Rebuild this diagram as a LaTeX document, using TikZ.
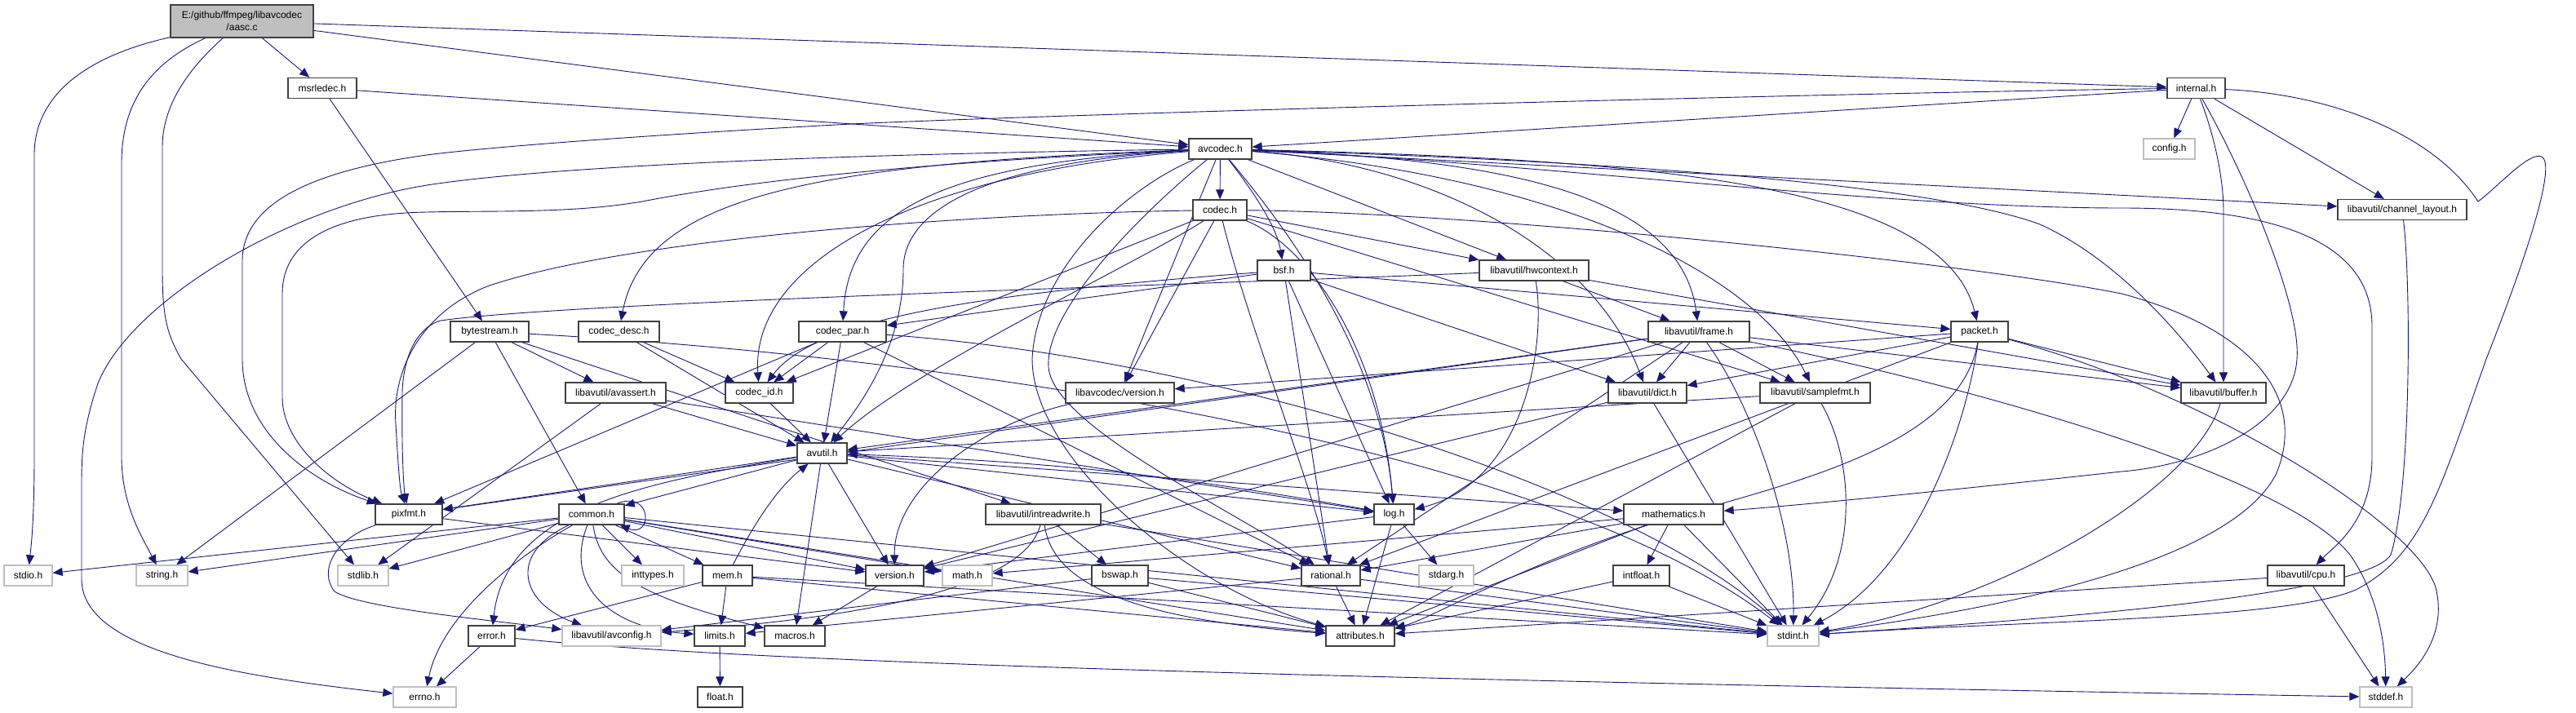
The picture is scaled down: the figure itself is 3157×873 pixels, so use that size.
\documentclass[tikz,border=0pt]{standalone}
\usepackage{fontspec}
\setmainfont{Liberation Sans}
\usetikzlibrary{arrows.meta}
\pgfdeclarelayer{back}
\pgfdeclarelayer{bg}
\pgfsetlayers{back,bg,main}
\definecolor{edgec}{RGB}{25,25,112}
\definecolor{grayb}{RGB}{191,191,191}
\definecolor{darkb}{RGB}{64,64,64}
\definecolor{rootf}{RGB}{191,191,191}
\begin{document}
\begin{tikzpicture}[x=1pt,y=-1pt,
  nb/.style={draw=darkb, line width=1.3pt, fill=white, inner sep=0pt, minimum height=25pt, font=\fontsize{12}{15}\selectfont, text=black},
  gb/.style={nb, draw=grayb},
  rb/.style={nb, fill=rootf, minimum height=40pt, align=center},
  e/.style={draw=edgec, line width=0.9pt, -{Triangle[length=12pt,width=10pt]}}]
\begin{pgfonlayer}{back}
\fill[white] (0,0) rectangle (3157,873);
\end{pgfonlayer}
\useasboundingbox (0,0) rectangle (3157,873);
% nodes
\node[rb, minimum width=175pt] (aasc) at (296.5,26) {E:/github/ffmpeg/libavcodec\\/aasc.c};
\node[nb, minimum width=84pt] (msrledec) at (395,108) {msrledec.h};
\node[nb, minimum width=71pt] (internal) at (2691.5,108) {internal.h};
\node[nb, minimum width=77pt] (avcodec) at (1495.5,182.5) {avcodec.h};
\node[gb, minimum width=63pt] (config) at (2658.5,182.5) {config.h};
\node[nb, minimum width=158pt] (chlayout) at (2944,257) {libavutil/channel\_layout.h};
\node[nb, minimum width=66pt] (codec) at (1495,257.5) {codec.h};
\node[nb, minimum width=65pt] (bsf) at (1573.5,331.5) {bsf.h};
\node[nb, minimum width=134pt] (hwcontext) at (1880,331.5) {libavutil/hwcontext.h};
\node[nb, minimum width=96pt] (bytestream) at (600,406.5) {bytestream.h};
\node[nb, minimum width=99pt] (codecdesc) at (758.5,406.5) {codec\_desc.h};
\node[nb, minimum width=107pt] (codecpar) at (1032.5,406.5) {codec\_par.h};
\node[nb, minimum width=124pt] (frame) at (2082,406.5) {libavutil/frame.h};
\node[nb, minimum width=70pt] (packet) at (2426,406.5) {packet.h};
\node[nb, minimum width=123pt] (avassert) at (754.5,481.5) {libavutil/avassert.h};
\node[nb, minimum width=83pt] (codecid) at (930.5,481.5) {codec\_id.h};
\node[nb, minimum width=133pt] (lavcver) at (1372.5,481.5) {libavcodec/version.h};
\node[nb, minimum width=96pt] (dict) at (2019,481.5) {libavutil/dict.h};
\node[nb, minimum width=135pt] (samplefmt) at (2224.5,481.5) {libavutil/samplefmt.h};
\node[nb, minimum width=104pt] (buffer) at (2725,481.5) {libavutil/buffer.h};
\node[nb, minimum width=61pt] (avutil) at (1007.5,555.5) {avutil.h};
\node[nb, minimum width=82pt] (pixfmt) at (501,630.5) {pixfmt.h};
\node[nb, minimum width=80pt] (common) at (725,630.5) {common.h};
\node[nb, minimum width=141pt] (intreadwrite) at (1278.5,630.5) {libavutil/intreadwrite.h};
\node[nb, minimum width=49pt] (log) at (1708.5,630.5) {log.h};
\node[nb, minimum width=122pt] (mathematics) at (2051,630.5) {mathematics.h};
\node[gb, minimum width=59pt] (stdio) at (34.5,705.5) {stdio.h};
\node[gb, minimum width=63pt] (string) at (198.5,705.5) {string.h};
\node[gb, minimum width=62pt] (stdlib) at (445,705.5) {stdlib.h};
\node[gb, minimum width=76pt] (inttypes) at (800,705.5) {inttypes.h};
\node[nb, minimum width=61pt] (mem) at (891.5,705.5) {mem.h};
\node[nb, minimum width=71pt] (version) at (1096.5,705.5) {version.h};
\node[gb, minimum width=61pt] (math) at (1185.5,705.5) {math.h};
\node[nb, minimum width=69pt] (bswap) at (1372.5,705.5) {bswap.h};
\node[nb, minimum width=72pt] (rational) at (1631,705.5) {rational.h};
\node[gb, minimum width=67pt] (stdarg) at (1772.5,705.5) {stdarg.h};
\node[nb, minimum width=69pt] (intfloat) at (2011.5,705.5) {intfloat.h};
\node[nb, minimum width=94pt] (cpu) at (2826,705.5) {libavutil/cpu.h};
\node[nb, minimum width=57pt] (error) at (602.5,779.5) {error.h};
\node[gb, minimum width=121pt] (avconfig) at (749.5,779.5) {libavutil/avconfig.h};
\node[nb, minimum width=62pt] (limits) at (882,779.5) {limits.h};
\node[nb, minimum width=74pt] (macros) at (974,779.5) {macros.h};
\node[nb, minimum width=84pt] (attributes) at (1667,779.5) {attributes.h};
\node[gb, minimum width=63pt] (stdint) at (2197.5,779.5) {stdint.h};
\node[gb, minimum width=77pt] (errno) at (520.5,854.5) {errno.h};
\node[nb, minimum width=55pt] (float) at (882.5,854.5) {float.h};
\node[gb, minimum width=64pt] (stddef) at (2924,854.5) {stddef.h};
% edges
\begin{pgfonlayer}{bg}
\foreach \a/\b in {aasc/msrledec, aasc/avcodec, aasc/internal,
 msrledec/avcodec, msrledec/bytestream,
 internal/avcodec, internal/config, internal/chlayout,
 avcodec/chlayout, avcodec/hwcontext, avcodec/codec, avcodec/lavcver,
 codec/hwcontext, codec/samplefmt, codec/codecid, codec/lavcver,
 bsf/dict, bsf/log, bsf/rational, bsf/codecpar, bsf/packet,
 codecdesc/avutil, codecdesc/codecid,
 codecpar/avutil, codecpar/rational, codecpar/pixfmt, codecpar/codecid,
 codecid/avutil,
 packet/buffer, packet/dict, packet/lavcver, packet/rational,
 bytestream/string, bytestream/avassert, bytestream/common, bytestream/intreadwrite,
 avassert/stdlib, avassert/avutil, avassert/log,
 avutil/common, avutil/rational, avutil/version, avutil/macros, avutil/mathematics, avutil/log, avutil/pixfmt,
 common/inttypes, common/math, common/stdint, common/stdio, common/stdlib, common/string, common/attributes, common/version, common/mem,
 error/errno,
 mem/limits, mem/stdint, mem/attributes, mem/error,
 version/macros,
 rational/stdint, rational/limits, rational/attributes,
 mathematics/stdint, mathematics/math, mathematics/attributes, mathematics/rational, mathematics/intfloat,
 intfloat/stdint, intfloat/attributes,
 log/stdarg, log/attributes, log/version,
 pixfmt/version,
 intreadwrite/stdint, intreadwrite/bswap,
 bswap/stdint, bswap/avconfig, bswap/attributes,
 cpu/stddef, cpu/attributes,
 dict/stdint, dict/version,
 samplefmt/avutil, samplefmt/attributes,
 hwcontext/buffer, hwcontext/frame,
 frame/avutil, frame/buffer, frame/dict, frame/rational, frame/samplefmt, frame/pixfmt, frame/version,
 limits/float}
 {\draw[e] (\a) -- (\b);}
\draw[e] (log) to[bend right=4] (avutil);
\draw[e] (codec) .. controls (1400,320) and (1120,450) .. (avutil);
% aasc
\draw[e] (aasc) .. controls (100,70) and (42,120) .. (42,190) -- (42,560) .. controls (42,640) and (38,670) .. (stdio);
\draw[e] (aasc) .. controls (190,75) and (149,120) .. (149,200) -- (149,560) .. controls (149,620) and (175,660) .. (string);
\draw[e] (aasc) .. controls (230,85) and (199,130) .. (199,180) -- (199,330) .. controls (199,390) and (205,410) .. (222,440) -- (stdlib);
% internal
\draw[e] (internal) .. controls (2715,170) and (2725,220) .. (2725,260) -- (buffer);
\draw[e] (internal) .. controls (2760,230) and (2820,380) .. (2815,440) .. controls (2810,520) and (2700,570) .. (2600,578) .. controls (2400,600) and (2200,620) .. (mathematics);
\draw[e] (internal) .. controls (2200,115) and (1300,140) .. (1043,152) .. controls (800,165) and (600,180) .. (523,190) .. controls (380,210) and (297,250) .. (297,320) -- (297,440) .. controls (297,530) and (380,590) .. (pixfmt);
\draw[e] (internal) .. controls (2850,115) and (2980,160) .. (3037,247) .. controls (3060,230) and (3100,185) .. (3115,192) .. controls (3130,200) and (3110,280) .. (3047,440) .. controls (2990,600) and (2970,680) .. (2887,723) .. controls (2800,760) and (2500,760) .. (stdint);
% avcodec
\draw[e] (avcodec) .. controls (1100,188) and (700,200) .. (523,227) .. controls (350,255) and (160,370) .. (120,470) .. controls (100,530) and (100,560) .. (100,600) -- (100,710) .. controls (100,800) and (300,830) .. (errno);
\draw[e] (avcodec) .. controls (1100,200) and (900,225) .. (787,247) .. controls (700,262) and (600,258) .. (523,260) .. controls (400,262) and (346,300) .. (346,360) -- (346,487) .. controls (346,540) and (400,590) .. (pixfmt);
\draw[e] (avcodec) .. controls (1900,215) and (2150,330) .. (samplefmt);
\draw[e] (avcodec) .. controls (1380,230) and (1270,330) .. (1265,440) .. controls (1265,560) and (1450,720) .. (attributes);
\draw[e] (avcodec) .. controls (1400,260) and (1280,380) .. (1285,450) .. controls (1290,520) and (1500,620) .. (rational);
\draw[e] (avcodec) .. controls (1200,200) and (1107,260) .. (1107,330) .. controls (1107,420) and (1060,490) .. (avutil);
\draw[e] (avcodec) .. controls (1900,195) and (2350,220) .. (2500,275) .. controls (2600,320) and (2680,420) .. (buffer);
\draw[e] (avcodec) .. controls (1900,200) and (2300,255) .. (2600,255) .. controls (2800,255) and (2907,300) .. (2907,400) -- (2907,560) .. controls (2907,640) and (2860,670) .. (cpu);
\draw[e] (avcodec) .. controls (1750,200) and (1950,300) .. (dict);
\draw[e] (avcodec) .. controls (1850,195) and (2060,240) .. (frame);
\draw[e] (avcodec) .. controls (1560,260) and (1690,420) .. (log);
\draw[e] (avcodec) .. controls (1150,200) and (1040,260) .. (codecpar);
\draw[e] (avcodec) .. controls (1000,200) and (790,240) .. (codecdesc);
\draw[e] (avcodec) .. controls (1100,215) and (920,330) .. (codecid);
\draw[e] (avcodec) .. controls (2000,195) and (2380,220) .. (packet);
\draw[e] (avcodec) .. controls (1540,240) and (1565,280) .. (bsf);
% codec
\draw[e] (codec) .. controls (1800,260) and (2400,320) .. (2600,360) .. controls (2750,400) and (2830,480) .. (2790,580) .. controls (2740,680) and (2500,740) .. (stdint);
\draw[e] (codec) .. controls (1600,300) and (1690,420) .. (log);
\draw[e] (codec) .. controls (1200,262) and (780,290) .. (600,350) .. controls (520,380) and (480,450) .. (485,520) .. controls (488,570) and (490,600) .. (pixfmt);
\draw[e] (codec) .. controls (1530,400) and (1610,600) .. (rational);
% bsf, codec_par, packet
\draw[e] (bsf) .. controls (1200,360) and (1000,390) .. (codecid);
\draw[e] (codecpar) .. controls (1500,440) and (2000,600) .. (stdint);
\draw[e] (packet) .. controls (2700,480) and (2960,640) .. (2985,720) .. controls (3000,780) and (2960,820) .. (stddef);
\draw[e] (packet) .. controls (2410,520) and (2350,700) .. (stdint);
\draw[e] (packet) .. controls (2400,560) and (2150,600) .. (2000,650) .. controls (1850,700) and (1750,760) .. (attributes);
\draw[e] (lavcver) .. controls (1200,520) and (1095,600) .. (version);
\draw[e] (bytestream) .. controls (1200,440) and (1900,550) .. (stdint);
\draw[e] (avutil) .. controls (800,590) and (620,620) .. (error);
% common
\draw[e] (common) .. controls (620,690) and (540,760) .. (errno);
\draw[e] (common) .. controls (690,720) and (750,770) .. (limits);
\draw[e] (common) .. controls (735,700) and (780,730) .. (macros);
\draw[e] (common) .. controls (620,680) and (640,740) .. (avconfig);
\draw[e] ([xshift=-10pt]common.north east) .. controls (800,600) and (800,660) .. ([xshift=-6pt]common.south east);
\draw[e] (error) .. controls (900,810) and (1500,830) .. (stddef);
\draw[e] (mem) .. controls (920,650) and (950,600) .. (avutil);
\draw[e] (pixfmt) .. controls (410,660) and (390,700) .. (410,725) .. controls (440,745) and (600,760) .. (avconfig);
\draw[e] (intreadwrite) .. controls (1260,700) and (1150,750) .. (avconfig);
\draw[e] (intreadwrite) .. controls (1290,720) and (1400,760) .. (attributes);
\draw[e] (buffer) .. controls (2690,600) and (2450,740) .. (stdint);
\draw[e] (chlayout) .. controls (2955,350) and (2955,600) .. (2930,680) .. controls (2900,730) and (2500,760) .. (stdint);
\draw[e] (samplefmt) .. controls (2270,560) and (2280,680) .. (stdint);
\draw[e] (hwcontext) .. controls (1895,420) and (1870,590) .. (log);
\draw[e] (hwcontext) .. controls (1500,348) and (700,370) .. (540,393) .. controls (515,400) and (495,430) .. (493,480) .. controls (492,560) and (495,600) .. (pixfmt);
\draw[e] (frame) .. controls (2400,470) and (2800,580) .. (2880,680) .. controls (2915,730) and (2923,790) .. (stddef);
\draw[e] (frame) .. controls (2150,500) and (2200,650) .. (stdint);
\end{pgfonlayer}
\end{tikzpicture}
\end{document}
